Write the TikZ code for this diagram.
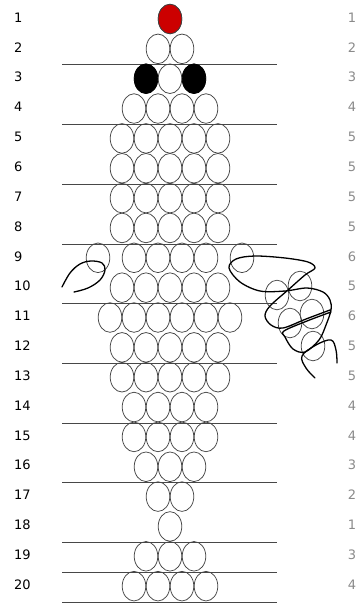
\documentclass[tikz,border=0pt]{standalone}
\usepackage{fontspec}
\setmainfont{DejaVu Sans}
\usetikzlibrary{shapes.geometric}
\definecolor{beadline}{HTML}{454545}
\definecolor{beadred}{HTML}{CC0000}
\definecolor{countgray}{HTML}{8A8A8A}

\begin{document}
\begin{tikzpicture}[
    x=1pt, y=-1pt,
    bead/.style={draw=beadline, ellipse, line width=0.75pt, minimum width=23.6pt, minimum height=29.6pt, inner sep=0pt},
    redbead/.style={bead, fill=beadred, draw=black!75},
    blackbead/.style={bead, fill=black, draw=black},
    rowline/.style={draw=black!72, line width=0.9pt},
    rownum/.style={anchor=west, inner sep=0pt, font=\fontsize{13}{15}\selectfont},
    countnum/.style={inner sep=0pt, text=countgray, font=\fontsize{13}{15}\selectfont},
    scribble/.style={line width=1.3pt, line cap=round, line join=round}
]
    \useasboundingbox (0,0) rectangle (360,603);

    % lines under every second row
    \foreach \r in {2,4,...,18,19,20} {
        \draw[rowline] (62,35+\r*29.85-29.85) -- (277,35+\r*29.85-29.85);
    }

    % row numbers, beads, counts
    \foreach \r/\n/\c in {1/1/1, 2/2/2, 3/3/3, 4/4/4, 5/5/5, 6/5/5, 7/5/5, 8/5/5,
                          9/4/6, 10/5/5, 11/6/6, 12/5/5, 13/5/5, 14/4/4, 15/4/4,
                          16/3/3, 17/2/2, 18/1/1, 19/3/3, 20/4/4} {
        \pgfmathsetmacro\yy{19+(\r-1)*29.85}
        \node[rownum] (num\r) at (14,\yy-1.5) {\r};
        \node[countnum] (cnt\r) at (352,\yy-1.5) {\c};
        \foreach \k in {1,...,\n} {
            \pgfmathsetmacro\xx{170+(\k-(\n+1)/2)*24}
            \node[bead] (b\r-\k) at (\xx,\yy) {};
        }
    }

    % coloured beads on top
    \node[redbead] (top) at (b1-1) {};
    \node[blackbead] (eyeL) at (b3-1) {};
    \node[blackbead] (eyeR) at (b3-3) {};

    % row 9 side beads
    \node[bead] (sideL) at (98,257.8) {};
    \node[bead] (sideR) at (242,257.8) {};

    % loose beads
    \node[bead] (loose1) at (277,295) {};
    \node[bead] (loose2) at (300,286) {};
    \node[bead] (loose3) at (290,323) {};
    \node[bead] (loose4) at (312,314) {};
    \node[bead] (loose5) at (313,346) {};

    % thread
    \draw[scribble] plot[smooth, tension=0.6] coordinates {
        (62,287) (70,273) (80,264) (91,261) (102,263) (105,270) (100,280) (88,288) (74,292)};
    \draw[scribble] plot[smooth, tension=0.55] coordinates {
        (330,310) (306,319) (283,328) (271,325) (265,316) (270,306) (288,290) (305,275)
        (315,268) (308,262) (285,258) (255,256) (236,259) (229,268) (240,282) (260,291)
        (285,291) (307,288) (323,292) (330,300) (331,310) (326,325) (319,340) (305,352)
        (293,349) (285,337) (284,331) (307,321) (331,312)};
    \draw[scribble] plot[smooth, tension=0.6] coordinates {
        (315,378) (306,368) (302,356) (316,345) (331,340) (336,350) (337,363)};
\end{tikzpicture}
\end{document}
